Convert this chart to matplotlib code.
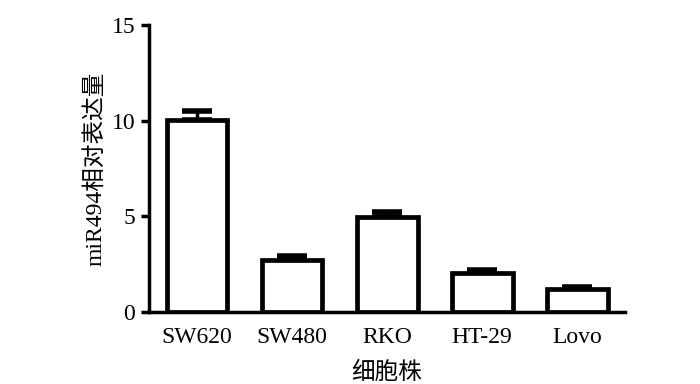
import numpy as np
import matplotlib.pyplot as plt

plt.rcParams['font.family'] = ['Liberation Serif', 'Noto Sans CJK SC']

cells = ['SW620', 'SW480', 'RKO', 'HT-29', 'Lovo']
expr = [10.05, 2.72, 4.98, 2.06, 1.2]
err = [0.45, 0.2, 0.26, 0.13, 0.1]

fig = plt.figure(figsize=(7, 3.84), dpi=100)
ax = fig.add_axes([0.213, 0.1875, 0.68, 0.748])

x = np.arange(len(cells))
ax.bar(x, expr, width=0.64, color='white', edgecolor='black', linewidth=3.4, zorder=2)
ax.errorbar(x, expr, yerr=[np.zeros(len(err)), err], fmt='none', ecolor='black',
            elinewidth=2.5, capsize=11, capthick=4, zorder=1)

ax.set_xlim(-0.505, 4.505)
ax.set_ylim(0, 15)
ax.set_yticks([0, 5, 10, 15])
ax.set_xticks(x)
ax.set_xticklabels(cells)
ax.tick_params(axis='y', length=6, width=2.5, labelsize=17, direction='out', pad=4)
ax.tick_params(axis='x', length=0, labelsize=17, pad=11)
ax.spines['top'].set_visible(False)
ax.spines['right'].set_visible(False)
ax.spines['left'].set_linewidth(2.5)
ax.spines['bottom'].set_linewidth(2.5)
ax.set_ylabel('miR494相对表达量', fontsize=17, labelpad=4)
ax.set_xlabel('细胞株', fontsize=17, labelpad=10)

fig.savefig('out.png', dpi=100)
